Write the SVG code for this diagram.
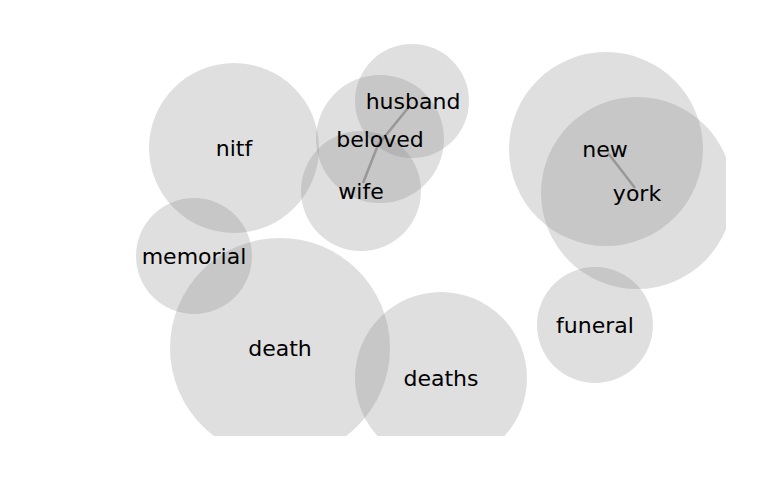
<svg xmlns="http://www.w3.org/2000/svg" width="768" height="500" viewBox="0 0 768 500">
<style>
.n circle{fill:#808080;fill-opacity:0.25}
text{font-family:"DejaVu Sans",sans-serif;font-size:22px;fill:#000;text-anchor:middle}
.e{fill:none;stroke:#8c8c8c;stroke-opacity:0.8;stroke-width:2.5}
</style>
<defs><clipPath id="c"><rect x="0" y="0" width="726" height="436"/></clipPath></defs>
<rect width="768" height="500" fill="#fff"/>
<g clip-path="url(#c)">
<g class="n">
<g id="nitf"><circle cx="234" cy="148" r="85"/></g>
<g id="memorial"><circle cx="194" cy="256" r="58"/></g>
<g id="death"><circle cx="280" cy="348" r="110"/></g>
<g id="deaths"><circle cx="441" cy="378" r="86"/></g>
<g id="wife"><circle cx="361" cy="191" r="60"/></g>
<g id="beloved"><circle cx="380" cy="139" r="64"/></g>
<g id="husband"><circle cx="412" cy="101" r="57"/></g>
<g id="new"><circle cx="606" cy="149" r="97"/></g>
<g id="york"><circle cx="637" cy="193" r="96"/></g>
<g id="funeral"><circle cx="595" cy="325" r="58"/></g>
</g>
<g id="connectors">
<polyline class="e" points="408,108 378,145 363,183"/>
<line class="e" x1="608" y1="153" x2="635" y2="188"/>
</g>
<g id="labels">
<text x="234" y="156">nitf</text>
<text x="194" y="264">memorial</text>
<text x="280" y="356">death</text>
<text x="441" y="386">deaths</text>
<text x="361" y="199">wife</text>
<text x="380" y="147">beloved</text>
<text x="413" y="109">husband</text>
<text x="605" y="157">new</text>
<text x="637" y="201">york</text>
<text x="595" y="333">funeral</text>
</g>
</g>
</svg>
